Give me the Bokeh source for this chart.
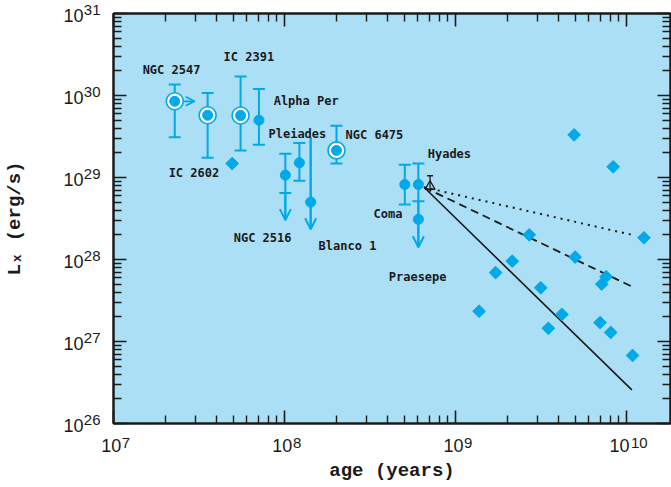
import numpy as np
from bokeh.plotting import figure
from bokeh.models import (Arrow, OpenHead, FixedTicker, LogAxis,
                          CustomJSTickFormatter, Range1d)
from bokeh.core.properties import value
from bokeh.embed import file_html
from bokeh.resources import INLINE

# ---------------- data ----------------
# open clusters (age in years, Lx in erg/s)
cl_names = ["NGC 2547", "IC 2602", "IC 2391", "Alpha Per", "NGC 2516",
            "Pleiades", "Blanco 1", "NGC 6475", "Coma", "Hyades", "Praesepe"]
cl_age = [2.28e7, 3.55e7, 5.53e7, 7.08e7, 1.01e8, 1.22e8, 1.42e8, 2.01e8,
          5.04e8, 6.05e8, 6.05e8]
cl_lx = [8.5e29, 5.75e29, 5.70e29, 5.0e29, 1.07e29, 1.51e29, 5.01e28,
         2.14e29, 8.22e28, 8.22e28, 3.09e28]
cl_ring = [True, True, True, False, False, False, False, True, False, False, False]

# error bars with caps
eb_age = [2.28e7, 3.55e7, 5.53e7, 7.08e7, 1.01e8, 1.22e8, 2.01e8, 5.04e8, 6.05e8]
eb_hi = [1.36e30, 1.07e30, 1.70e30, 1.20e30, 1.95e29, 2.63e29, 4.27e29, 1.43e29, 1.48e29]
eb_lo = [3.1e29, 1.74e29, 2.14e29, 2.51e29, 6.46e28, 9.12e28, 1.48e29, 4.68e28, 5.13e28]

# upper limits in Lx (downward arrows)
ul_age = [1.01e8, 1.42e8, 6.05e8]
ul_from = [6.46e28, 3.09e29, 5.13e28]
ul_to = [3.02e28, 2.34e28, 1.41e28]

# lower limit in age (rightward arrow) for NGC 2547
ll_age_from = [2.28e7]
ll_age_to = [2.98e7]
ll_lx = [8.5e29]

# single field stars (diamonds)
st_age = [4.94e7, 4.92e9, 8.32e9, 2.69e9, 1.26e10, 4.99e9, 2.14e9, 1.71e9,
          7.57e9, 7.14e9, 3.14e9, 1.37e9, 4.17e9, 6.98e9, 3.48e9, 8.05e9, 1.08e10]
st_lx = [1.48e29, 3.31e29, 1.35e29, 2.0e28, 1.84e28, 1.07e28, 9.55e27, 6.92e27,
         6.17e27, 5.01e27, 4.52e27, 2.34e27, 2.14e27, 1.70e27, 1.45e27, 1.29e27, 6.76e26]

# Hyades (black triangle)
hy_age = [7.08e8]
hy_lx = [7.76e28]
hy_hi = [1.05e29]
hy_lo = [6.61e28]

# model decay lines
line_age = [6.53e8, 1.07e10]
line_dotted = [7.6e28, 2.0e28]
line_dashed = [7.6e28, 4.68e27]
line_solid = [7.6e28, 2.57e26]

# cluster label anchors (left, middle)
lab_text = ["NGC 2547", "IC 2391", "Alpha Per", "Pleiades", "NGC 6475", "Hyades",
            "Coma", "IC 2602", "NGC 2516", "Blanco 1", "Praesepe"]
lab_age = [1.48e7, 4.40e7, 8.63e7, 8.05e7, 2.27e8, 6.86e8, 3.31e8, 2.10e7,
           5.04e7, 1.58e8, 4.06e8]
lab_lx = [2.06e30, 2.97e30, 8.6e29, 3.44e29, 3.32e29, 1.95e29, 3.6e28, 1.13e29,
          1.82e28, 1.45e28, 6.2e27]

# ticks
x_major = [1e7, 1e8, 1e9, 1e10]
x_exp = ["7", "8", "9", "10"]
x_minor = [m * d for d in [1e7, 1e8, 1e9, 1e10] for m in range(2, 10)]
y_major = [1e26, 1e27, 1e28, 1e29, 1e30, 1e31]
y_exp = ["26", "27", "28", "29", "30", "31"]
y_minor = [m * d for d in [1e26, 1e27, 1e28, 1e29, 1e30] for m in range(2, 10)]

x_title = "age (years)"
y_title = "L\u2093 (erg/s)"

# ---------------- style ----------------
BG = "#abdff6"
BLUE = "#00a9e8"
INK = "#1a1a1a"
TF = "Liberation Sans"
AF = "Liberation Mono"
FS = "\u2007"   # figure space
QS = "\u2005"   # four-per-em space

p = figure(width=671, height=487, x_axis_type="log", y_axis_type="log",
           x_range=Range1d(1e7, 1.8e10), y_range=Range1d(1e26, 1e31),
           output_backend="svg", toolbar_location=None,
           min_border_left=113, min_border_right=1, min_border_top=13,
           min_border_bottom=64)
p.background_fill_color = BG
p.border_fill_color = "white"
p.outline_line_color = INK
p.outline_line_width = 2
p.xgrid.visible = False
p.ygrid.visible = False


def fmt(major, labels):
    return CustomJSTickFormatter(args=dict(tv=major, lv=labels), code="""
        for (let i = 0; i < tv.length; i++) {
            if (Math.abs(tick / tv[i] - 1) < 1e-6) return lv[i];
        }
        return '';
    """)


def style_axis(ax, major, minor, labels=None):
    ax.ticker = FixedTicker(ticks=major, minor_ticks=minor)
    ax.formatter = fmt(major, labels if labels else [""] * len(major))
    ax.major_tick_in = 13
    ax.major_tick_out = 0
    ax.minor_tick_in = 8
    ax.minor_tick_out = 0
    ax.major_tick_line_width = 1.6
    ax.minor_tick_line_width = 1.4
    ax.major_tick_line_color = INK
    ax.minor_tick_line_color = INK
    ax.axis_line_width = 2
    ax.axis_line_color = INK
    ax.major_label_standoff = 0
    ax.major_label_text_color = INK


def bare_axis(ax, major, labels):
    ax.ticker = FixedTicker(ticks=major, minor_ticks=[])
    ax.formatter = fmt(major, labels)
    ax.major_tick_in = 0
    ax.major_tick_out = 0
    ax.minor_tick_in = 0
    ax.minor_tick_out = 0
    ax.axis_line_color = None
    ax.major_tick_line_color = None
    ax.minor_tick_line_color = None
    ax.major_label_text_color = INK


# bottom: "10" labels on the ticked axis, exponents on a stacked axis
x_base = ["10" + (QS if len(e) == 1 else FS + QS) for e in x_exp]
style_axis(p.xaxis[0], x_major, x_minor, x_base)
p.xaxis[0].major_label_text_font = TF
p.xaxis[0].major_label_text_font_size = "18px"
p.xaxis[0].major_label_standoff = 12

xexp_axis = LogAxis()
bare_axis(xexp_axis, x_major, [FS * 3 + e for e in x_exp])
xexp_axis.major_label_text_font = TF
xexp_axis.major_label_text_font_size = "15px"
xexp_axis.major_label_standoff = -25
xexp_axis.axis_label = x_title
xexp_axis.axis_label_text_font = AF
xexp_axis.axis_label_text_font_size = "19px"
xexp_axis.axis_label_text_font_style = "bold"
xexp_axis.axis_label_text_color = INK
xexp_axis.axis_label_standoff = 6
p.add_layout(xexp_axis, "below")

# left: exponents on the ticked axis, "10" on a stacked axis
style_axis(p.yaxis[0], y_major, y_minor, [e + "\n" + FS for e in y_exp])
p.yaxis[0].major_label_text_font = TF
p.yaxis[0].major_label_text_font_size = "15px"
p.yaxis[0].major_label_standoff = 13
p.yaxis[0].major_label_text_line_height = 0.5

ybase_axis = LogAxis()
bare_axis(ybase_axis, y_major, [FS + "\n10" for _ in y_exp])
ybase_axis.major_label_text_font = TF
ybase_axis.major_label_text_font_size = "18px"
ybase_axis.major_label_text_line_height = 0.2
ybase_axis.major_label_standoff = -3
ybase_axis.axis_label = y_title
ybase_axis.axis_label_text_font = AF
ybase_axis.axis_label_text_font_size = "19px"
ybase_axis.axis_label_text_font_style = "bold"
ybase_axis.axis_label_text_color = INK
ybase_axis.axis_label_standoff = 34
p.add_layout(ybase_axis, "left")

top = LogAxis()
style_axis(top, x_major, x_minor)
p.add_layout(top, "above")
right = LogAxis()
style_axis(right, y_major, y_minor)
p.add_layout(right, "right")

# model lines
p.line(line_age, line_dotted, line_color=INK, line_width=2, line_dash="2 5")
p.line(line_age, line_dashed, line_color=INK, line_width=1.8, line_dash="8 5")
p.line(line_age, line_solid, line_color=INK, line_width=1.6)

# error bars
p.segment(x0=eb_age, y0=eb_lo, x1=eb_age, y1=eb_hi, line_color=BLUE, line_width=2)
p.scatter(eb_age + eb_age, eb_hi + eb_lo, marker="dash", size=12,
          line_color=BLUE, line_width=2)
# upper-limit shafts + heads
p.segment(x0=ul_age, y0=ul_from, x1=ul_age, y1=ul_to, line_color=BLUE, line_width=2)
for a, f, t in zip(ul_age, ul_from, ul_to):
    p.add_layout(Arrow(end=OpenHead(size=11, line_color=BLUE, line_width=2),
                       x_start=a, y_start=f, x_end=a, y_end=t,
                       line_color=BLUE, line_width=2, level="underlay"))
for a0, a1, l in zip(ll_age_from, ll_age_to, ll_lx):
    p.add_layout(Arrow(end=OpenHead(size=9, line_color=BLUE, line_width=1.8),
                       x_start=a0, y_start=l, x_end=a1, y_end=l,
                       line_color=BLUE, line_width=1.8, level="underlay"))

# cluster markers
ring_x = [a for a, r in zip(cl_age, cl_ring) if r]
ring_y = [l for l, r in zip(cl_lx, cl_ring) if r]
p.scatter(ring_x, ring_y, marker="circle", size=17, fill_color="white",
          line_color=BLUE, line_width=1.6)
p.scatter(cl_age, cl_lx, marker="circle", size=10, fill_color=BLUE, line_color=BLUE)

# diamonds
p.scatter(st_age, st_lx, marker="square", angle=np.pi / 4, size=9,
          fill_color=BLUE, line_color=BLUE)

# Hyades triangle
p.segment(x0=hy_age, y0=hy_lo, x1=hy_age, y1=hy_hi, line_color=INK, line_width=1.3)
p.scatter(hy_age, hy_hi, marker="dash", size=6, line_color=INK, line_width=1.3)
p.scatter(hy_age, hy_lx, marker="triangle", size=10, fill_alpha=0,
          line_color=INK, line_width=1.3)

# cluster labels
p.text(x=lab_age, y=lab_lx, text=lab_text, text_font=value("DejaVu Sans Mono"),
       text_font_size="12px", text_font_style="bold", text_align="left",
       text_baseline="middle", text_color=INK)

open("out.html", "w").write(file_html(p, INLINE))
